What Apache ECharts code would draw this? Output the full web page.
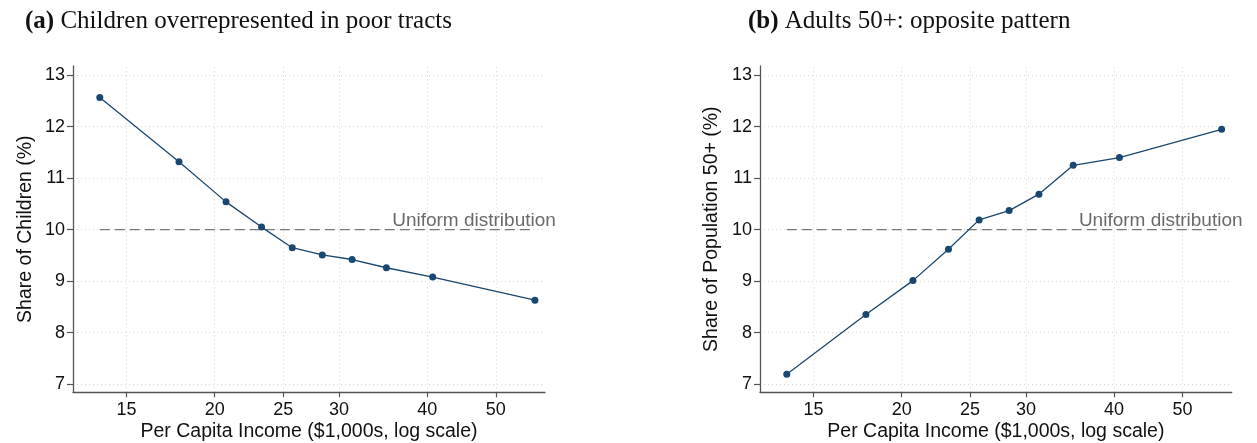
<!DOCTYPE html>
<html>
<head>
<meta charset="utf-8">
<script src="https://cdn.jsdelivr.net/npm/echarts@6/dist/echarts.min.js"></script>
<style>
html,body{margin:0;padding:0;background:#fff;}
#chart{width:1257px;height:443px;}
</style>
</head>
<body>
<div id="chart"></div>
<script>
// Per capita income deciles ($1,000s)
const incomeK = [13.75, 17.8, 20.75, 23.3, 25.75, 28.4, 31.3, 35.0, 40.7, 56.8];
// Panel (a): share of children (%)
const childShare = [12.57, 11.32, 10.54, 10.05, 9.65, 9.51, 9.42, 9.26, 9.08, 8.63];
// Panel (b): share of population 50+ (%)
const olderShare = [7.19, 8.35, 9.01, 9.62, 10.19, 10.37, 10.69, 11.25, 11.40, 11.95];
// Uniform distribution reference (%)
const uniformShare = 10;
const uniformLabel = 'Uniform distribution';
// Tick values
const xTicks = [15, 20, 25, 30, 40, 50];
const yTicks = [7, 8, 9, 10, 11, 12, 13];

const titles = [
  {tag: '(a)', text: 'Children overrepresented in poor tracts'},
  {tag: '(b)', text: 'Adults 50+: opposite pattern'}
];
const yTitles = ['Share of Children (%)', 'Share of Population 50+ (%)'];
const xTitle = 'Per Capita Income ($1,000s, log scale)';

const SANS = '"Liberation Sans", Arial, Helvetica, sans-serif';
const SERIF = '"Liberation Serif", "Times New Roman", serif';
const NAVY = '#1a476f';

const chart = echarts.init(document.getElementById('chart'), null, {renderer: 'canvas'});

function pairs(xs, ys) { return xs.map((x, i) => [x, ys[i]]); }

const grids = [
  {left: 73, right: 712, top: 66, bottom: 50.7, containLabel: false, outerBoundsMode: 'none'},
  {left: 760, right: 25.3, top: 66, bottom: 50.7, containLabel: false, outerBoundsMode: 'none'}
];

function xAxisFor(i) {
  return {
    type: 'log', logBase: 10, gridIndex: i, min: 12.6, max: 58.7,
    name: xTitle, nameLocation: 'middle', nameGap: 29, nameMoveOverlap: false,
    nameTextStyle: {fontFamily: SANS, fontSize: 19.5, color: '#111'},
    axisLine: {show: true, onZero: false, lineStyle: {color: '#555', width: 1.3}},
    axisTick: {show: true, length: 5, customValues: xTicks, lineStyle: {color: '#555', width: 1.2}},
    axisLabel: {customValues: xTicks, fontFamily: SANS, fontSize: 18, color: '#111', margin: 9,
      formatter: v => String(Math.round(v))},
    splitLine: {show: false},
    minorTick: {show: false}
  };
}
function yAxisFor(i) {
  return {
    type: 'value', gridIndex: i, min: 6.84, max: 13.18,
    name: yTitles[i], nameLocation: 'middle', nameGap: i === 0 ? 37 : 38, nameMoveOverlap: false,
    nameTextStyle: {fontFamily: SANS, fontSize: 19.5, color: '#111'},
    axisLine: {show: true, onZero: false, lineStyle: {color: '#555', width: 1.3}},
    axisTick: {show: true, length: 6, customValues: yTicks, lineStyle: {color: '#555', width: 1.2}},
    axisLabel: {customValues: yTicks, fontFamily: SANS, fontSize: 18, color: '#111', margin: 8},
    splitLine: {show: false}
  };
}

function seriesFor(i, values) {
  const first = incomeK[0], last = incomeK[incomeK.length - 1];
  return [
    {
      // dotted grid lines
      type: 'line', xAxisIndex: i, yAxisIndex: i, z: 0, data: [],
      silent: true,
      markLine: {
        silent: true, symbol: ['none', 'none'], animation: false, z: 0,
        label: {show: false},
        lineStyle: {color: '#d6d6d6', width: 1, type: [1, 3]},
        data: yTicks.map(v => ({yAxis: v})).concat(xTicks.map(v => ({xAxis: v})))
      }
    },
    {
      type: 'line', xAxisIndex: i, yAxisIndex: i, z: 2,
      data: [
        [first, uniformShare],
        {value: [last, uniformShare], label: {
          show: true, formatter: uniformLabel, position: [21, 1],
          align: 'right', verticalAlign: 'bottom',
          fontFamily: SANS, fontSize: 19, color: '#6a6a6a'
        }}
      ],
      symbol: 'circle', symbolSize: 0.1, showSymbol: true,
      itemStyle: {color: 'rgba(0,0,0,0)'},
      lineStyle: {color: '#777777', width: 1.4, type: [10, 5]},
      silent: true
    },
    {
      type: 'line', xAxisIndex: i, yAxisIndex: i, z: 3,
      data: pairs(incomeK, values),
      symbol: 'circle', symbolSize: 7, showSymbol: true,
      itemStyle: {color: NAVY},
      lineStyle: {color: NAVY, width: 1.3}
    }
  ];
}

function titleFor(i, left) {
  return {
    left: left, top: 9, padding: 0,
    text: '{b|' + titles[i].tag + '} ' + titles[i].text,
    textStyle: {fontFamily: SERIF, fontSize: 25, fontWeight: 'normal', color: '#111',
      rich: {b: {fontFamily: SERIF, fontSize: 25, fontWeight: 'bold', color: '#111'}}}
  };
}

chart.setOption({
  animation: false,
  backgroundColor: '#fff',
  title: [titleFor(0, 25), titleFor(1, 748)],
  grid: grids,
  xAxis: [xAxisFor(0), xAxisFor(1)],
  yAxis: [yAxisFor(0), yAxisFor(1)],
  series: seriesFor(0, childShare).concat(seriesFor(1, olderShare))
});
</script>
</body>
</html>
